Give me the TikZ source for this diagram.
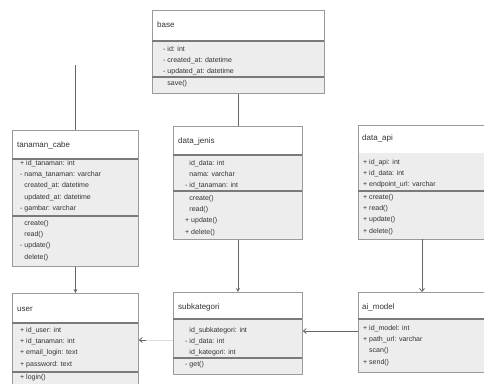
\documentclass[tikz,border=0pt]{standalone}
\usepackage{fontspec}
\setmainfont{Liberation Sans}
\usetikzlibrary{arrows.meta}
\definecolor{secgray}{HTML}{EDEDED}
\definecolor{bordgray}{HTML}{9A9A9A}
\definecolor{divgray}{HTML}{7A7A7A}
\definecolor{txtgray}{HTML}{333333}
\definecolor{linegray}{HTML}{666666}
\tikzset{
  classbox/.style={draw=bordgray, line width=0.8pt, fill=white, inner sep=0pt, anchor=north west},
  secfill/.style={fill=secgray},
  divline/.style={draw=divgray, line width=1.3pt},
  ttl/.style={inner sep=0pt, anchor=west, text=txtgray, font=\fontsize{8}{10}\selectfont},
  lst/.style={inner sep=0pt, anchor=north west, align=left, text=txtgray, font=\fontsize{7}{11.3}\selectfont},
  conn/.style={draw=linegray, line width=0.8pt},
  solidhead/.style={-{Stealth[length=4pt,width=4pt]}},
  openhead/.style={-{Straight Barb[length=3pt,width=5pt]}},
}
\begin{document}
\begin{tikzpicture}[x=1pt,y=-1pt]
\useasboundingbox (0,0) rectangle (484,383);
% ---------- base ----------
\node[classbox, minimum width=172pt, minimum height=83pt] (base) at (152,10) {};
\fill[secfill] (152.5,41) rectangle (323.5,92.5);
\draw[divline] (152,41) -- (324,41);
\draw[divline] (152,77) -- (324,77);
\node[ttl] (baset) at (157,25) {base};
\node[lst] (basea) at (163,46) {- id: int\\- created\_at: datetime\\- updated\_at: datetime};
\node[lst] (basem) at (163,80) {\phantom{- }save()};
% ---------- tanaman_cabe ----------
\node[classbox, minimum width=126pt, minimum height=136pt] (tan) at (12,130) {};
\fill[secfill] (12.5,159) rectangle (137.5,265.5);
\draw[divline] (12,159) -- (138,159);
\draw[divline] (12,216) -- (138,216);
\node[ttl] (tant) at (17,145) {tanaman\_cabe};
\node[lst] (tana) at (20,160) {+ id\_tanaman: int\\- nama\_tanaman: varchar\\\phantom{- }created\_at: datetime\\\phantom{- }updated\_at: datetime\\- gambar: varchar};
\node[lst] (tanm) at (20,220) {\phantom{- }create()\\\phantom{- }read()\\- update()\\\phantom{- }delete()};
% ---------- data_jenis ----------
\node[classbox, minimum width=129pt, minimum height=113pt] (fetch) at (173,126) {};
\fill[secfill] (173.5,155) rectangle (301.5,238.5);
\draw[divline] (173,155) -- (302,155);
\draw[divline] (173,191) -- (302,191);
\node[ttl] (fetcht) at (178,141) {data\_jenis};
\node[lst] (fetcha) at (185,160) {\phantom{- }id\_data: int\\\phantom{- }nama: varchar\\- id\_tanaman: int};
\node[lst] (fetchm) at (185,195) {\phantom{- }create()\\\phantom{- }read()\\+ update()\\+ delete()};
% ---------- data_api ----------
\node[classbox, minimum width=132pt, minimum height=114pt] (api) at (358,125) {};
\fill[secfill] (358.5,153) rectangle (489.5,238.5);
\draw[divline] (358,191) -- (490,191);
\node[ttl] (apit) at (362,138) {data\_api};
\node[lst] (apia) at (363,159) {+ id\_api: int\\+ id\_data: int\\+ endpoint\_url: varchar};
\node[lst] (apim) at (363,194) {+ create()\\+ read()\\+ update()\\+ delete()};
% ---------- user ----------
\node[classbox, minimum width=126pt, minimum height=97pt] (user) at (12,293) {};
\fill[secfill] (12.5,323) rectangle (137.5,389);
\draw[divline] (12,323) -- (138,323);
\draw[divline] (12,372) -- (138,372);
\node[ttl] (usert) at (17,309) {user};
\node[lst] (usera) at (20,327) {+ id\_user: int\\+ id\_tanaman: int\\+ email\_login: text\\+ password: text};
\node[lst] (userm) at (20,374) {+ login()};
% ---------- subkategori ----------
\node[classbox, minimum width=129pt, minimum height=82pt] (sub) at (173,292) {};
\fill[secfill] (173.5,319) rectangle (301.5,373.5);
\draw[divline] (173,319) -- (302,319);
\draw[divline] (173,358) -- (302,358);
\node[ttl] (subt) at (178,307) {subkategori};
\node[lst] (suba) at (185,327) {\phantom{- }id\_subkategori: int\\- id\_data: int\\\phantom{- }id\_kategori: int};
\node[lst] (subm) at (185,361) {- get()};
% ---------- ai_model ----------
\node[classbox, minimum width=132pt, minimum height=80pt] (ai) at (358,292) {};
\fill[secfill] (358.5,319) rectangle (489.5,371.5);
\draw[divline] (358,319) -- (490,319);
\node[ttl] (ait) at (362,307) {ai\_model};
\node[lst] (aia) at (363,325) {+ id\_model: int\\+ path\_url: varchar\\\phantom{+ }scan()\\+ send()};
% ---------- connectors ----------
\coordinate (leftfree) at (75,65);
\draw[conn] (leftfree) -- (tan.north -| leftfree);
\draw[conn] (base.south -| fetch.north) -- (fetch.north);
\draw[conn, solidhead] (tan.south) -- (user.north -| tan.south);
\draw[conn, solidhead] (fetch.south) -- (sub.north);
\coordinate (apibot) at (422,239);
\draw[conn, openhead] (apibot) -- (ai.north -| apibot);
\coordinate (aileft) at (358,331);
\draw[conn, openhead] (aileft) -- (sub.east |- aileft);
\coordinate (subleft) at (173,340);
\draw[draw=gray!25, line width=0.6pt] (subleft) -- (145,340);
\draw[conn, openhead, draw=linegray] (146,340) -- (user.east |- subleft);
\end{tikzpicture}
\end{document}
